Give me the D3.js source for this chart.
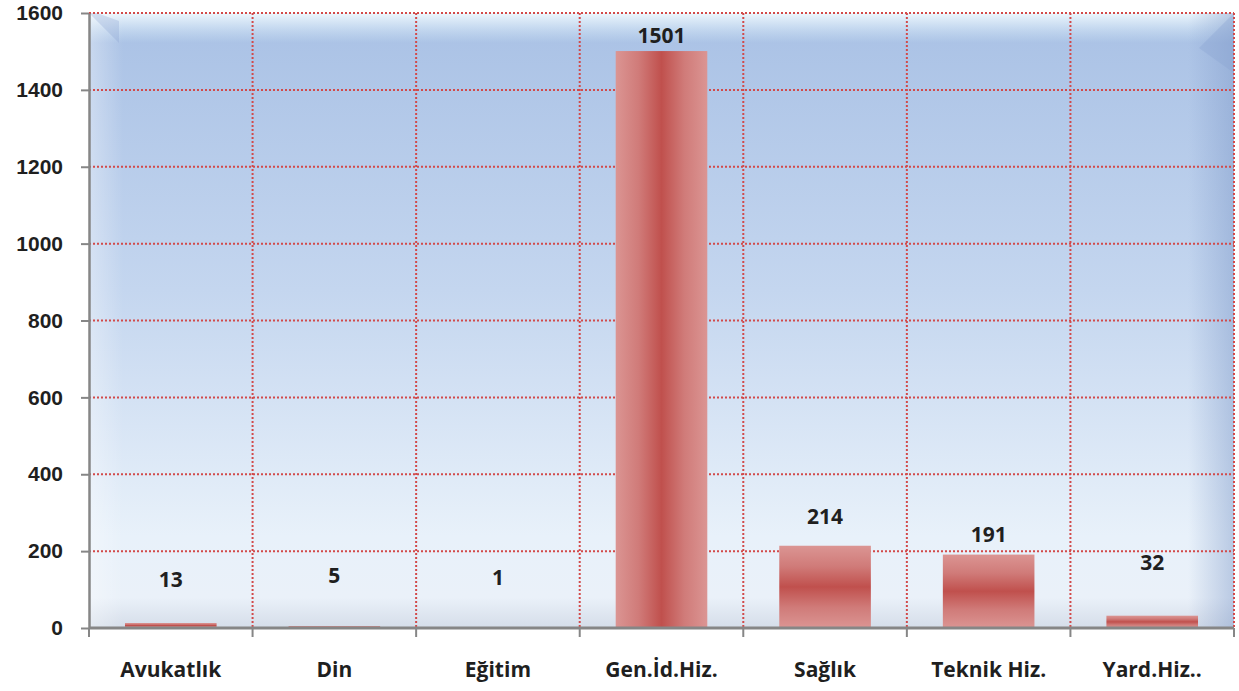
<!DOCTYPE html>
<html>
<head>
<meta charset="utf-8">
<script src="https://cdn.jsdelivr.net/npm/d3@7"></script>
<style>
  body { margin: 0; background: #fff; }
  svg { display: block; font-family: "Open Sans", "Noto Sans", sans-serif; }
  .tick text { font-weight: 700; fill: #1f1f1f; }
</style>
</head>
<body>
<svg width="1239" height="691"></svg>
<script>
const categories = ["Avukatlık", "Din", "Eğitim", "Gen.İd.Hiz.", "Sağlık", "Teknik Hiz.", "Yard.Hiz.."];
const counts = [13, 5, 1, 1501, 214, 191, 32];
// where each value label sits in axis units
const labelAt = [127, 135, 132, 1540, 289, 242, 169];
const yTicks = [0, 200, 400, 600, 800, 1000, 1200, 1400, 1600];

const svg = d3.select("svg");
const plotLeft = 89, plotTop = 13, plotRight = 1234, plotBottom = 628;

const x = d3.scaleBand().domain(categories).range([plotLeft, plotRight]).paddingInner(0.44).paddingOuter(0.22);
const y = d3.scaleLinear().domain([0, 1600]).range([plotBottom, plotTop]);

const defs = svg.append("defs");

const bg = defs.append("linearGradient").attr("id", "bg").attr("x1", 0).attr("y1", 0).attr("x2", 0).attr("y2", 1);
bg.append("stop").attr("offset", 0).attr("stop-color", "#a9c1e5");
bg.append("stop").attr("offset", 0.45).attr("stop-color", "#c4d6ef");
bg.append("stop").attr("offset", 0.85).attr("stop-color", "#e8f1fa");
bg.append("stop").attr("offset", 0.95).attr("stop-color", "#eaf1f9");
bg.append("stop").attr("offset", 1).attr("stop-color", "#d5dde9");

const topShine = defs.append("linearGradient").attr("id", "topShine").attr("x1", 0).attr("y1", 0).attr("x2", 0).attr("y2", 1);
topShine.append("stop").attr("offset", 0).attr("stop-color", "#f2fbff").attr("stop-opacity", 0.95);
topShine.append("stop").attr("offset", 1).attr("stop-color", "#d8ecf8").attr("stop-opacity", 0);

const sideShade = defs.append("linearGradient").attr("id", "sideShade").attr("x1", 0).attr("y1", 0).attr("x2", 1).attr("y2", 0);
sideShade.append("stop").attr("offset", 0).attr("stop-color", "#ffffff").attr("stop-opacity", 0.35);
sideShade.append("stop").attr("offset", 0.03).attr("stop-color", "#ffffff").attr("stop-opacity", 0);
sideShade.append("stop").attr("offset", 0.96).attr("stop-color", "#7d98c8").attr("stop-opacity", 0);
sideShade.append("stop").attr("offset", 1).attr("stop-color", "#7d98c8").attr("stop-opacity", 0.45);

function barGrad(id, x2, y2) {
  const g = defs.append("linearGradient").attr("id", id)
    .attr("x1", 0).attr("y1", 0).attr("x2", x2).attr("y2", y2);
  g.append("stop").attr("offset", 0).attr("stop-color", "#db9593");
  g.append("stop").attr("offset", 0.25).attr("stop-color", "#d07b79");
  g.append("stop").attr("offset", 0.5).attr("stop-color", "#c0504d");
  g.append("stop").attr("offset", 0.75).attr("stop-color", "#d07b79");
  g.append("stop").attr("offset", 1).attr("stop-color", "#db9593");
}
barGrad("barH", 1, 0);
barGrad("barV", 0, 1);

// plot background
svg.append("rect").attr("x", plotLeft).attr("y", plotTop).attr("width", plotRight - plotLeft).attr("height", plotBottom - plotTop).attr("fill", "url(#bg)");
svg.append("rect").attr("x", plotLeft).attr("y", plotTop).attr("width", plotRight - plotLeft).attr("height", 30).attr("fill", "url(#topShine)");
svg.append("rect").attr("x", plotLeft).attr("y", plotTop).attr("width", plotRight - plotLeft).attr("height", plotBottom - plotTop).attr("fill", "url(#sideShade)");
svg.append("path")
  .attr("d", `M${plotLeft},${plotTop}L${plotLeft + 30},${plotTop + 30}L${plotLeft + 30},${plotTop + 8}L${plotLeft + 8},${plotTop}Z`)
  .attr("fill", "#8aa3d2").attr("opacity", 0.3);
svg.append("path")
  .attr("d", `M${plotRight},${plotTop}L${plotRight - 35},${plotTop + 35}L${plotRight},${plotTop + 60}Z`)
  .attr("fill", "#8aa3d2").attr("opacity", 0.35);

// gridlines
const grid = svg.append("g").attr("stroke", "#d24a4a").attr("stroke-width", 2).attr("stroke-dasharray", "2,2");
grid.selectAll("line.h").data(yTicks.filter((d) => d > 0)).enter().append("line")
  .attr("x1", plotLeft).attr("x2", plotRight).attr("y1", (d) => y(d)).attr("y2", (d) => y(d));
const bounds = d3.range(1, categories.length + 1).map((i) => plotLeft + i * x.step());
grid.selectAll("line.v").data(bounds).enter().append("line")
  .attr("x1", (d) => d).attr("x2", (d) => d).attr("y1", plotTop).attr("y2", plotBottom);

// bars
svg.selectAll("rect.bar").data(counts).enter().append("rect")
  .attr("class", "bar")
  .attr("x", (_, i) => x(categories[i]))
  .attr("y", (d) => y(d))
  .attr("width", x.bandwidth())
  .attr("height", (d) => plotBottom - y(d))
  .attr("fill", (d) => (plotBottom - y(d) > x.bandwidth() ? "url(#barH)" : "url(#barV)"));

// value labels
svg.selectAll("text.val").data(counts).enter().append("text")
  .attr("class", "val")
  .attr("x", (_, i) => x(categories[i]) + x.bandwidth() / 2)
  .attr("y", (_, i) => y(labelAt[i]))
  .attr("dy", "0.35em")
  .attr("text-anchor", "middle")
  .attr("font-size", 21).attr("font-weight", 700).attr("fill", "#1f1f1f")
  .text((d) => d);

// y axis
const yAxis = svg.append("g").attr("transform", `translate(${plotLeft},0)`)
  .call(d3.axisLeft(y).tickValues(yTicks).tickFormat(d3.format("d")).tickSize(8).tickPadding(18).tickSizeOuter(0));
yAxis.select(".domain").attr("stroke", "#868686").attr("stroke-width", 2.5);
yAxis.selectAll(".tick line").attr("stroke", "#868686").attr("stroke-width", 2);
yAxis.selectAll(".tick text").attr("font-size", 21);

// x axis
const xAxis = svg.append("g").attr("transform", `translate(0,${plotBottom})`);
xAxis.append("line").attr("x1", plotLeft).attr("x2", plotRight).attr("stroke", "#868686").attr("stroke-width", 3);
xAxis.selectAll("line.t").data([plotLeft].concat(bounds)).enter().append("line")
  .attr("x1", (d) => d).attr("x2", (d) => d).attr("y1", 0).attr("y2", 9)
  .attr("stroke", "#868686").attr("stroke-width", 2);
xAxis.selectAll("text").data(categories).enter().append("text")
  .attr("x", (d) => x(d) + x.bandwidth() / 2)
  .attr("y", 42)
  .attr("dy", "0.35em")
  .attr("text-anchor", "middle")
  .attr("font-size", 21).attr("font-weight", 700).attr("fill", "#1f1f1f")
  .text((d) => d);
</script>
</body>
</html>
